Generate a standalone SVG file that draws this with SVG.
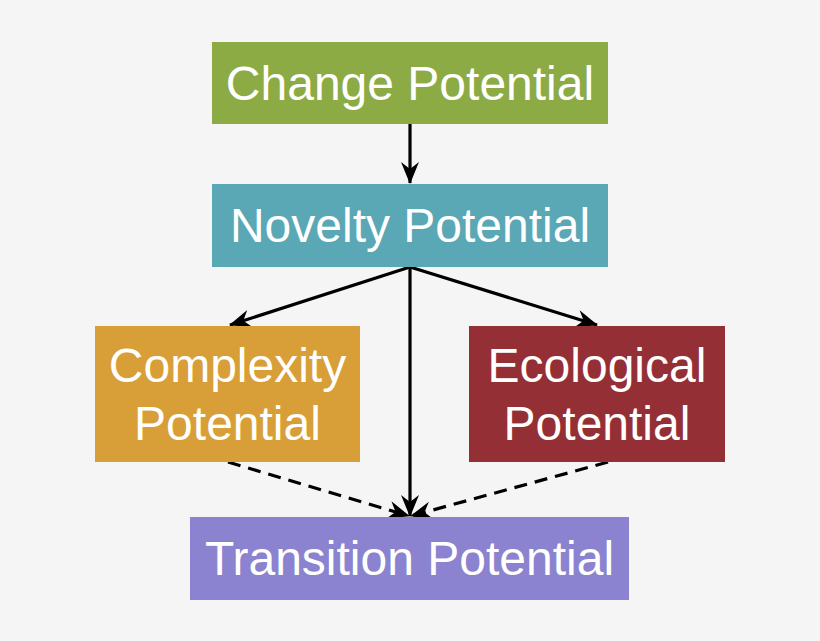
<svg xmlns="http://www.w3.org/2000/svg" width="820" height="641" viewBox="0 0 820 641">
<style>
.lbl{font-family:"Liberation Sans",Arial,sans-serif;font-size:48px;fill:#ffffff;text-anchor:middle}
.edge{stroke:#000;stroke-width:3.2;fill:none}
.dash{stroke-dasharray:13 8}
</style>
<defs>
<marker id="arr" viewBox="0 0 22 18" refX="21" refY="9" markerWidth="22" markerHeight="18" markerUnits="userSpaceOnUse" orient="auto">
<path d="M0,0 L22,9 L0,18 L7,9 z" fill="#000"/>
</marker>
</defs>
<rect width="820" height="641" fill="#f5f5f5"/>
<g id="connectors">
<line class="edge" x1="410" y1="124" x2="410" y2="183" marker-end="url(#arr)"/>
<line class="edge" x1="410" y1="267" x2="230" y2="325" marker-end="url(#arr)"/>
<line class="edge" x1="410" y1="267" x2="597" y2="325" marker-end="url(#arr)"/>
<line class="edge" x1="410" y1="267" x2="410" y2="516" marker-end="url(#arr)"/>
<line class="edge dash" x1="228" y1="462" x2="409" y2="516" marker-end="url(#arr)"/>
<line class="edge dash" x1="608" y1="462" x2="411" y2="516" marker-end="url(#arr)"/>
</g>
<g id="change">
<rect x="212" y="42" width="396" height="82" fill="#8cab45"/>
<text class="lbl" x="410" y="100">Change Potential</text>
</g>
<g id="novelty">
<rect x="212" y="184" width="396" height="83" fill="#5aa7b5"/>
<text class="lbl" x="410" y="242">Novelty Potential</text>
</g>
<g id="complexity">
<rect x="95" y="326" width="265" height="136" fill="#d89e37"/>
<text class="lbl" x="227.5" y="382">Complexity</text>
<text class="lbl" x="227.5" y="440">Potential</text>
</g>
<g id="ecological">
<rect x="469" y="326" width="256" height="136" fill="#943035"/>
<text class="lbl" x="597" y="382">Ecological</text>
<text class="lbl" x="597" y="440">Potential</text>
</g>
<g id="transition">
<rect x="190" y="517" width="439" height="83" fill="#8b83cf"/>
<text class="lbl" x="409.5" y="575">Transition Potential</text>
</g>
</svg>
